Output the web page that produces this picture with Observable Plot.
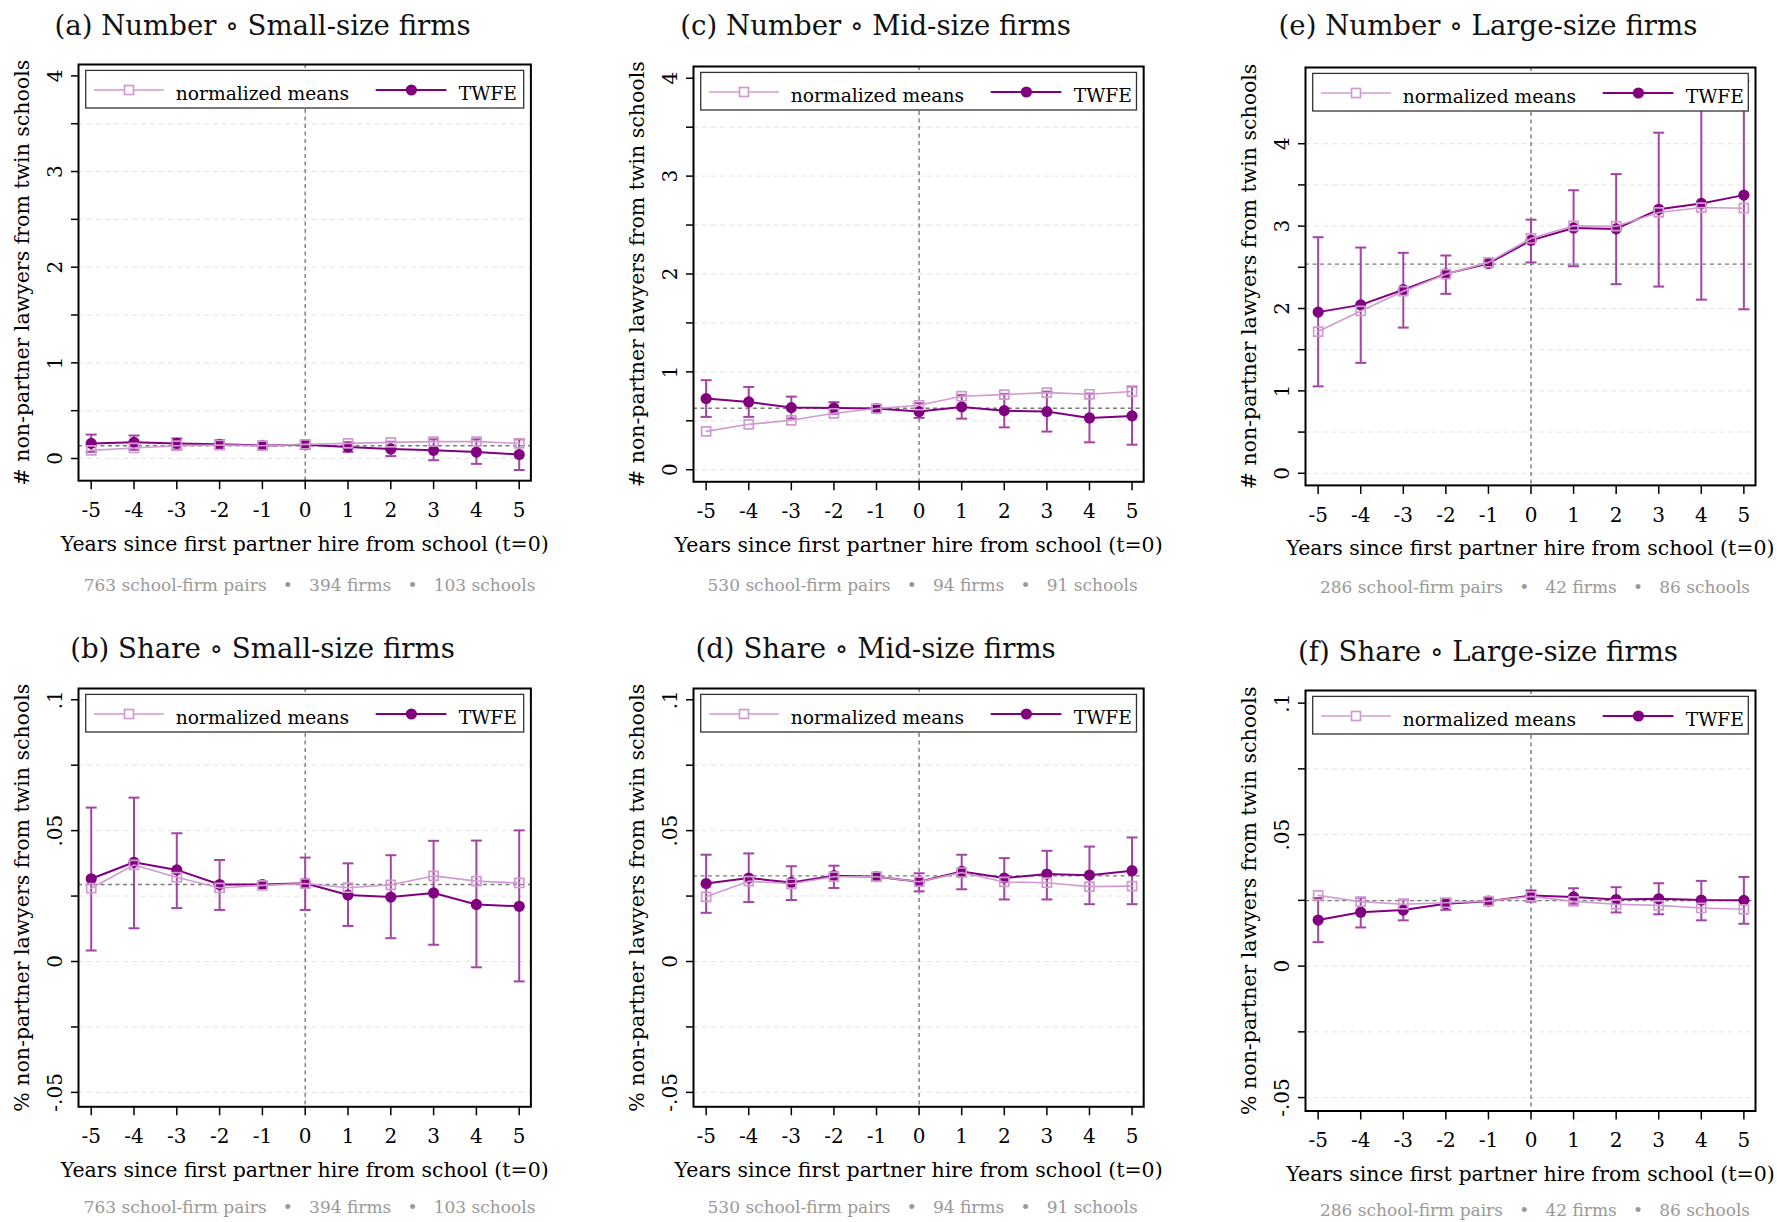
<!DOCTYPE html>
<html>
<head>
<meta charset="utf-8">
<script src="https://cdn.jsdelivr.net/npm/d3@7"></script>
<script src="https://cdn.jsdelivr.net/npm/@observablehq/plot@0.6"></script>
<style>
  body { margin: 0; background: #fff; }
  #page { position: relative; width: 1777px; height: 1222px; background: #fff; font-family: "DejaVu Serif", serif; overflow: hidden; }
  .panel { position: absolute; }
  .txt { position: absolute; white-space: pre; line-height: 1; transform: translateX(-50%); }
</style>
</head>
<body>
<div id="page"></div>
<script>
// ---------------- data ----------------
const years = [-5, -4, -3, -2, -1, 0, 1, 2, 3, 4, 5];

// (a) Number, small-size firms
const twfeNumSmall = [0.158, 0.169, 0.158, 0.148, 0.137, 0.144, 0.12, 0.10, 0.085, 0.067, 0.042];
const loNumSmall   = [0.07, 0.09, 0.095, 0.10, 0.10, 0.10, 0.07, 0.025, -0.018, -0.056, -0.12];
const hiNumSmall   = [0.25, 0.24, 0.21, 0.19, 0.175, 0.185, 0.17, 0.175, 0.2, 0.2, 0.2];
const nmNumSmall   = [0.085, 0.11, 0.134, 0.141, 0.134, 0.148, 0.158, 0.169, 0.176, 0.176, 0.158];
const baseNumSmall = 0.134;

// (c) Number, mid-size firms
const twfeNumMid = [0.727, 0.693, 0.635, 0.631, 0.625, 0.594, 0.642, 0.604, 0.594, 0.529, 0.55];
const loNumMid   = [0.54, 0.54, 0.523, 0.572, 0.594, 0.53, 0.522, 0.433, 0.39, 0.28, 0.256];
const hiNumMid   = [0.915, 0.846, 0.747, 0.69, 0.655, 0.68, 0.762, 0.775, 0.798, 0.778, 0.85];
const nmNumMid   = [0.392, 0.464, 0.505, 0.577, 0.625, 0.659, 0.751, 0.768, 0.788, 0.771, 0.799];
const baseNumMid = 0.628;

// (e) Number, large-size firms
const twfeNumLarge = [1.956, 2.044, 2.228, 2.42, 2.547, 2.827, 2.978, 2.966, 3.204, 3.275, 3.376];
const loNumLarge   = [1.055, 1.34, 1.768, 2.178, 2.51, 2.559, 2.513, 2.295, 2.266, 2.107, 1.99];
const hiNumLarge   = [2.865, 2.74, 2.676, 2.643, 2.58, 3.078, 3.435, 3.631, 4.134, 4.44, 4.76];
const nmNumLarge   = [1.72, 1.97, 2.21, 2.417, 2.56, 2.85, 3.003, 2.999, 3.166, 3.225, 3.217];
const baseNumLarge = 2.538;

// (b) Share, small-size firms
const twfeShrSmall = [0.0316, 0.0379, 0.035, 0.0294, 0.0294, 0.0299, 0.0254, 0.0246, 0.0262, 0.0218, 0.0211];
const loShrSmall   = [0.0042, 0.0127, 0.0204, 0.0197, 0.0281, 0.0197, 0.0136, 0.0089, 0.0064, -0.0022, -0.0076];
const hiShrSmall   = [0.0588, 0.0626, 0.049, 0.0388, 0.0304, 0.0397, 0.0375, 0.0406, 0.0461, 0.0462, 0.0501];
const nmShrSmall   = [0.028, 0.0369, 0.0322, 0.0281, 0.0291, 0.0298, 0.0282, 0.0293, 0.0327, 0.0307, 0.030];
const baseShrSmall = 0.0294;

// (d) Share, mid-size firms
const twfeShrMid = [0.0298, 0.0319, 0.0302, 0.0328, 0.0324, 0.0305, 0.0344, 0.0319, 0.0334, 0.033, 0.0347];
const loShrMid   = [0.0186, 0.0227, 0.0235, 0.0281, 0.0309, 0.0268, 0.0276, 0.0237, 0.0237, 0.0219, 0.0219];
const hiShrMid   = [0.0408, 0.0413, 0.0364, 0.0366, 0.0337, 0.0337, 0.0408, 0.0395, 0.0423, 0.0439, 0.0474];
const nmShrMid   = [0.0247, 0.0307, 0.0297, 0.0324, 0.0324, 0.0305, 0.034, 0.0304, 0.0301, 0.0286, 0.0288];
const baseShrMid = 0.0327;

// (f) Share, large-size firms
const twfeShrLarge = [0.0175, 0.0205, 0.0213, 0.0237, 0.0247, 0.0268, 0.0263, 0.0253, 0.0256, 0.0251, 0.025];
const loShrLarge   = [0.0091, 0.0147, 0.0174, 0.0214, 0.0233, 0.0245, 0.0237, 0.0204, 0.0197, 0.0174, 0.0161];
const hiShrLarge   = [0.0259, 0.026, 0.0253, 0.0256, 0.0262, 0.0288, 0.0296, 0.03, 0.0315, 0.0324, 0.0339];
const nmShrLarge   = [0.0269, 0.0245, 0.0235, 0.0241, 0.0247, 0.0265, 0.0246, 0.0235, 0.0231, 0.0221, 0.0216];
const baseShrLarge = 0.0249;

// tick values and labels
const numTicks = [0, 0.5, 1, 1.5, 2, 2.5, 3, 3.5, 4];
const numLabels = [0, 1, 2, 3, 4];
const shrTicks = [-0.05, -0.025, 0, 0.025, 0.05, 0.075, 0.1];
const shrLabels = [-0.05, 0, 0.05, 0.1];

// texts
const titles = {
  a: "(a) Number \u2218 Small-size firms",
  c: "(c) Number \u2218 Mid-size firms",
  e: "(e) Number \u2218 Large-size firms",
  b: "(b) Share \u2218 Small-size firms",
  d: "(d) Share \u2218 Mid-size firms",
  f: "(f) Share \u2218 Large-size firms"
};
const captionSmall = ["763 school-firm pairs", "394 firms", "103 schools"];
const captionMid   = ["530 school-firm pairs", "94 firms", "91 schools"];
const captionLarge = ["286 school-firm pairs", "42 firms", "86 schools"];
const xTitle = "Years since first partner hire from school (t=0)";
const yTitleNum = "# non-partner lawyers from twin schools";
const yTitleShr = "% non-partner lawyers from twin schools";
const legendLabels = ["normalized means", "TWFE"];

// ---------------- styles ----------------
const TWFE_COLOR = "#800080";
const NM_COLOR = "#d09bd0";
const CI_COLOR = "#a444a4";
const REF_COLOR = "#7a7a7a";
const GRID_COLOR = "#e4e4e4";
const FONT = "DejaVu Serif";

const panels = [
  {id: "a", twfe: twfeNumSmall, lo: loNumSmall, hi: hiNumSmall, nm: nmNumSmall, base: baseNumSmall,
   ticks: numTicks, labels: numLabels, yTitle: yTitleNum, caption: captionSmall,
   L: 78.3, R: 530.7, T: 64.3, B: 480.5, yDomain: [-0.232, 4.119], titleY: 25, capY: 585},
  {id: "c", twfe: twfeNumMid, lo: loNumMid, hi: hiNumMid, nm: nmNumMid, base: baseNumMid,
   ticks: numTicks, labels: numLabels, yTitle: yTitleNum, caption: captionMid,
   L: 692.5, R: 1142.7, T: 65.7, B: 481, yDomain: [-0.123, 4.12], titleY: 25, capY: 585},
  {id: "e", twfe: twfeNumLarge, lo: loNumLarge, hi: hiNumLarge, nm: nmNumLarge, base: baseNumLarge,
   ticks: numTicks, labels: numLabels, yTitle: yTitleNum, caption: captionLarge,
   L: 1305, R: 1755, T: 66.6, B: 484.5, yDomain: [-0.147, 4.925], titleY: 25, capY: 587},
  {id: "b", twfe: twfeShrSmall, lo: loShrSmall, hi: hiShrSmall, nm: nmShrSmall, base: baseShrSmall,
   ticks: shrTicks, labels: shrLabels, yTitle: yTitleShr, caption: captionSmall,
   L: 78.3, R: 530.7, T: 687.7, B: 1106, yDomain: [-0.0555, 0.1043], titleY: 648, capY: 1207},
  {id: "d", twfe: twfeShrMid, lo: loShrMid, hi: hiShrMid, nm: nmShrMid, base: baseShrMid,
   ticks: shrTicks, labels: shrLabels, yTitle: yTitleShr, caption: captionMid,
   L: 692.5, R: 1142.7, T: 687.7, B: 1106, yDomain: [-0.0555, 0.1043], titleY: 648, capY: 1207},
  {id: "f", twfe: twfeShrLarge, lo: loShrLarge, hi: hiShrLarge, nm: nmShrLarge, base: baseShrLarge,
   ticks: shrTicks, labels: shrLabels, yTitle: yTitleShr, caption: captionLarge,
   L: 1305, R: 1755, T: 690, B: 1110.5, yDomain: [-0.0551, 0.1048], titleY: 650.5, capY: 1210}
];

const fmtY = d => d === 0 ? "0" : (d < 0 ? "-" : "") + String(Math.abs(d)).replace(/^0\./, ".");

// horizontal cap symbol for the confidence-interval ends
const capSymbol = {
  draw(context, size) {
    const r = Math.sqrt(size / Math.PI);
    context.moveTo(-r, 0);
    context.lineTo(r, 0);
  }
};

const page = document.getElementById("page");
const ML = 78, MT = 4, MR = 8, MB = 84;

for (const p of panels) {
  const rows = years.map((t, i) => ({t, twfe: p.twfe[i], lo: p.lo[i], hi: p.hi[i], nm: p.nm[i]}));
  const fw = p.R - p.L, fh = p.B - p.T;
  const width = ML + fw + MR, height = MT + fh + MB;

  const svg = Plot.plot({
    width, height,
    marginLeft: ML, marginTop: MT, marginRight: MR, marginBottom: MB,
    style: {fontFamily: FONT, fontSize: "20px", color: "#000", background: "transparent", overflow: "visible"},
    x: {domain: [-5.297, 5.273]},
    y: {domain: p.yDomain},
    marks: [
      Plot.ruleY(p.ticks, {stroke: GRID_COLOR, strokeWidth: 1, strokeDasharray: "5,4"}),
      Plot.ruleY([p.base], {stroke: REF_COLOR, strokeWidth: 1.4, strokeDasharray: "4,3.5"}),
      Plot.ruleX([0], {stroke: REF_COLOR, strokeWidth: 1.4, strokeDasharray: "4,3.5"}),
      Plot.ruleX(rows, {x: "t", y1: "lo", y2: "hi", stroke: CI_COLOR, strokeWidth: 2}),
      Plot.dot(rows, {x: "t", y: "lo", symbol: capSymbol, r: 5.5, stroke: CI_COLOR, strokeWidth: 2, fill: "none"}),
      Plot.dot(rows, {x: "t", y: "hi", symbol: capSymbol, r: 5.5, stroke: CI_COLOR, strokeWidth: 2, fill: "none"}),
      Plot.line(rows, {x: "t", y: "twfe", stroke: TWFE_COLOR, strokeWidth: 2}),
      Plot.dot(rows, {x: "t", y: "twfe", r: 5.6, fill: TWFE_COLOR, stroke: "none"}),
      Plot.line(rows, {x: "t", y: "nm", stroke: NM_COLOR, strokeWidth: 1.6}),
      Plot.dot(rows, {x: "t", y: "nm", symbol: "square", r: 5.1, stroke: NM_COLOR, strokeWidth: 1.7, fill: "none"}),
      Plot.frame({stroke: "#000", strokeWidth: 2}),
      Plot.axisX({ticks: years, tickFormat: d => String(d), tickSize: 9, tickPadding: 13, fontSize: 20, label: null, strokeWidth: 1.5}),
      Plot.axisY({ticks: p.ticks, tickFormat: () => "", tickSize: 7, label: null, strokeWidth: 1.5}),
      Plot.text(p.labels, {y: d => d, text: fmtY, frameAnchor: "left", dx: -16.5, rotate: -90, textAnchor: "middle", lineAnchor: "bottom", fontSize: 20}),
      Plot.text([p.yTitle], {frameAnchor: "left", dx: -50, rotate: -90, textAnchor: "middle", lineAnchor: "bottom", fontSize: 20.5}),
      Plot.text([xTitle], {frameAnchor: "bottom", dy: 70, lineAnchor: "bottom", fontSize: 20.5})
    ]
  });

  // legend box inside the frame
  const bx = ML + 7.7, by = MT + 6.4, bw = fw - 14.4, bh = 37.6;
  const g = d3.select(svg).append("g")
    .attr("font-family", FONT).attr("font-size", 18.7).attr("text-anchor", "start").attr("fill", "#000");
  g.append("rect").attr("x", bx).attr("y", by).attr("width", bw).attr("height", bh)
    .attr("fill", "#fff").attr("stroke", "#333").attr("stroke-width", 1.3);
  const ly = by + 19.6;
  g.append("line").attr("x1", bx + 8.3).attr("x2", bx + 78.3).attr("y1", ly).attr("y2", ly)
    .attr("stroke", NM_COLOR).attr("stroke-width", 1.6);
  g.append("rect").attr("x", bx + 43.3 - 4.5).attr("y", ly - 4.5).attr("width", 9).attr("height", 9)
    .attr("fill", "#fff").attr("stroke", NM_COLOR).attr("stroke-width", 1.7);
  g.append("text").attr("x", bx + 90).attr("y", by + 30).attr("text-anchor", "start").text(legendLabels[0]);
  g.append("line").attr("x1", bx + 290).attr("x2", bx + 360.7).attr("y1", ly).attr("y2", ly)
    .attr("stroke", TWFE_COLOR).attr("stroke-width", 2);
  g.append("circle").attr("cx", bx + 325.7).attr("cy", ly).attr("r", 5.6).attr("fill", TWFE_COLOR);
  g.append("text").attr("x", bx + 373).attr("y", by + 30).attr("text-anchor", "start").text(legendLabels[1]);

  const div = document.createElement("div");
  div.className = "panel";
  div.style.left = (p.L - ML) + "px";
  div.style.top = (p.T - MT) + "px";
  div.appendChild(svg);
  page.appendChild(div);

  // title above
  const tS = 27.6;
  const title = document.createElement("div");
  title.className = "txt";
  title.style.fontSize = tS + "px";
  title.style.color = "#111";
  title.style.left = ((p.L + p.R) / 2 - 42) + "px";
  title.style.top = (p.titleY + 10.5 - 0.846 * tS) + "px";
  title.textContent = titles[p.id];
  page.appendChild(title);

  // caption below
  const cS = 17;
  const cap = document.createElement("div");
  cap.className = "txt";
  cap.style.fontSize = cS + "px";
  cap.style.color = "#999";
  cap.style.left = ((p.L + p.R) / 2 + 5) + "px";
  cap.style.top = (p.capY + 6 - 0.846 * cS) + "px";
  cap.textContent = p.caption.join("   \u2022   ");
  page.appendChild(cap);
}
</script>
</body>
</html>
